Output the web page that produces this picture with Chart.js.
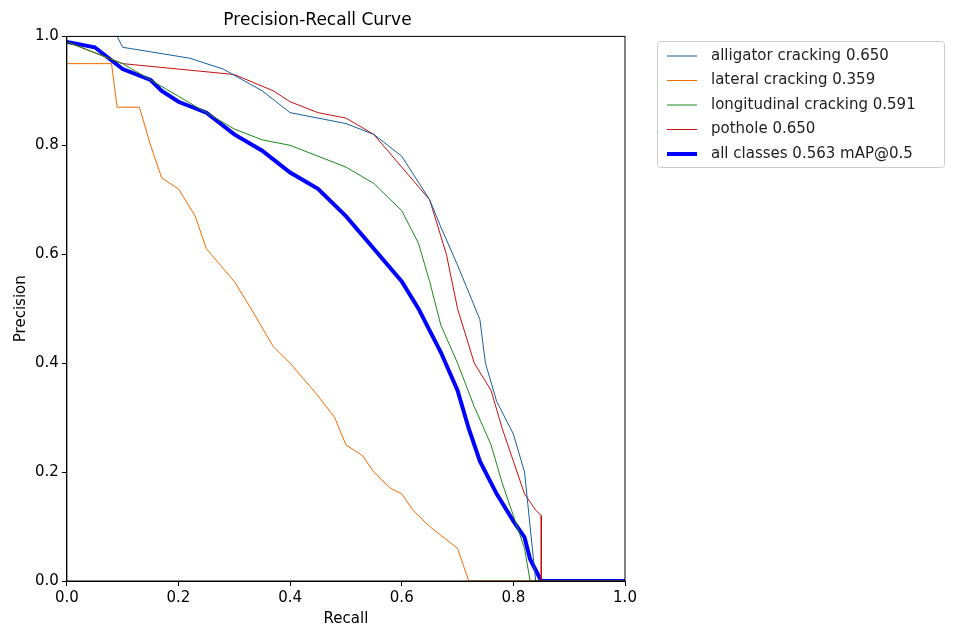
<!DOCTYPE html>
<html><head><meta charset="utf-8">
<script src="https://cdn.jsdelivr.net/npm/chart.js@4/dist/chart.umd.min.js"></script>
<style>body{margin:0;background:#fff}#wrap{width:962px;height:628px}</style>
</head><body><div id="wrap"><canvas id="c"></canvas></div>
<script>
// recall / precision pairs
const alligatorR = [0,0.09,0.1,0.22,0.28,0.35,0.4,0.45,0.5,0.55,0.6,0.65,0.67,0.7,0.72,0.74,0.75,0.77,0.8,0.82,0.83,0.84,1.0];
const alligatorP = [1.0,1.0,0.98,0.96,0.94,0.9,0.86,0.85,0.84,0.82,0.78,0.7,0.65,0.58,0.53,0.48,0.4,0.33,0.27,0.2,0.1,0.0,0.0];
const lateralR = [0,0.08,0.09,0.13,0.15,0.17,0.2,0.23,0.25,0.3,0.33,0.37,0.4,0.45,0.48,0.5,0.53,0.55,0.58,0.6,0.62,0.65,0.7,0.72,1.0];
const lateralP = [0.95,0.95,0.87,0.87,0.8,0.74,0.72,0.67,0.61,0.55,0.5,0.43,0.4,0.34,0.3,0.25,0.23,0.2,0.17,0.16,0.13,0.1,0.06,0.0,0.0];
const longR = [0,0.05,0.1,0.15,0.2,0.25,0.3,0.35,0.4,0.45,0.5,0.55,0.6,0.63,0.65,0.67,0.7,0.73,0.76,0.78,0.8,0.82,0.83,1.0];
const longP = [0.99,0.97,0.95,0.92,0.89,0.86,0.83,0.81,0.8,0.78,0.76,0.73,0.68,0.62,0.55,0.47,0.4,0.32,0.25,0.18,0.12,0.06,0.0,0.0];
const potholeR = [0,0.05,0.1,0.3,0.37,0.4,0.45,0.5,0.55,0.6,0.65,0.68,0.7,0.73,0.76,0.78,0.8,0.82,0.84,0.85,0.85,1.0];
const potholeP = [0.99,0.97,0.95,0.93,0.9,0.88,0.86,0.85,0.82,0.76,0.7,0.6,0.5,0.4,0.35,0.28,0.22,0.16,0.13,0.12,0.0,0.0];
const allR = [0,0.05,0.1,0.15,0.17,0.2,0.25,0.3,0.35,0.4,0.45,0.5,0.55,0.6,0.63,0.67,0.7,0.72,0.74,0.77,0.8,0.82,0.83,0.85,1.0];
const allP = [0.99,0.98,0.94,0.92,0.9,0.88,0.86,0.82,0.79,0.75,0.72,0.67,0.61,0.55,0.5,0.42,0.35,0.28,0.22,0.16,0.11,0.08,0.04,0.0,0.0];
const labels = ['alligator cracking 0.650','lateral cracking 0.359','longitudinal cracking 0.591','pothole 0.650','all classes 0.563 mAP@0.5'];
const colors = ['#1b5e9e','#f26b00','#1a8a1a','#c41010','#0000ff'];
const widths = [1,1,1,1,4];

function pts(r, p) { return r.map((v, i) => ({x: v, y: p[i]})); }
const series = [pts(alligatorR, alligatorP), pts(lateralR, lateralP), pts(longR, longP), pts(potholeR, potholeP), pts(allR, allP)];

const legendBox = {
  id: 'legendBox',
  afterDraw(chart) {
    const ctx = chart.ctx;
    const x = 657, y = 41, w = 287, h = 126;
    ctx.save();
    ctx.strokeStyle = '#cccccc'; ctx.lineWidth = 1;
    ctx.beginPath(); ctx.roundRect(x + 0.5, y + 0.5, w, h, 3); ctx.stroke();
    ctx.font = '15px "DejaVu Sans"'; ctx.textBaseline = 'middle'; ctx.fillStyle = '#222';
    labels.forEach((t, i) => {
      const ly = y + 15 + i * 24.5;
      ctx.strokeStyle = colors[i]; ctx.lineWidth = widths[i];
      ctx.beginPath(); ctx.moveTo(x + 10, ly); ctx.lineTo(x + 40, ly); ctx.stroke();
      ctx.fillText(t, x + 54, ly);
    });
    ctx.restore();
  }
};

new Chart(document.getElementById('c'), {
  type: 'line',
  data: {
    datasets: series.map((d, i) => ({
      label: labels[i], data: d, borderColor: colors[i], borderWidth: widths[i],
      pointRadius: 0, fill: false, tension: 0
    }))
  },
  options: {
    responsive: true, maintainAspectRatio: false, animation: false,
    layout: {padding: {top: 2, right: 337, left: 10, bottom: 0}},
    plugins: {
      legend: {display: false},
      tooltip: {enabled: false},
      title: {display: true, text: 'Precision-Recall Curve', color: '#000',
        font: {size: 17, family: 'DejaVu Sans', weight: 'normal'}, padding: {top: 8, bottom: 6}}
    },
    scales: {
      x: {type: 'linear', min: 0, max: 1,
        ticks: {stepSize: 0.2, color: '#000', font: {size: 15, family: 'DejaVu Sans'}, callback: v => v.toFixed(1)},
        grid: {drawOnChartArea: false, color: '#000', tickLength: 5},
        border: {color: '#000'},
        title: {display: true, text: 'Recall', color: '#000', font: {size: 15, family: 'DejaVu Sans'}, padding: 0}},
      y: {min: 0, max: 1,
        ticks: {stepSize: 0.2, color: '#000', font: {size: 15, family: 'DejaVu Sans'}, callback: v => v.toFixed(1)},
        grid: {drawOnChartArea: false, color: '#000', tickLength: 5},
        border: {color: '#000'},
        title: {display: true, text: 'Precision', color: '#000', font: {size: 15, family: 'DejaVu Sans'}, padding: 2}}
    }
  },
  plugins: [legendBox, {
    id: 'frame',
    afterDatasetsDraw(chart) {
      const a = chart.chartArea, ctx = chart.ctx;
      ctx.save(); ctx.strokeStyle = '#000'; ctx.lineWidth = 1;
      ctx.strokeRect(a.left, a.top, a.right - a.left, a.bottom - a.top); ctx.restore();
    }
  }]
});
</script></body></html>
